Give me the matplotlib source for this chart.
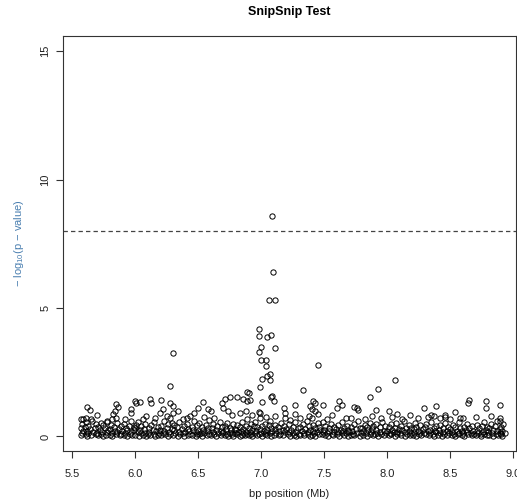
import matplotlib
matplotlib.use("Agg")
import matplotlib.pyplot as plt

plt.rcParams["font.family"] = ["Liberation Sans", "DejaVu Sans"]
plt.rcParams["mathtext.fontset"] = "custom"
plt.rcParams["mathtext.rm"] = "Liberation Sans"
plt.rcParams["mathtext.it"] = "Liberation Sans"
plt.rcParams["mathtext.default"] = "regular"

# data: SNP position (Mb) and -log10(p)
# background SNPs, low signal
bg_pos = [
    5.57, 5.57, 5.58, 5.58, 5.59, 5.59,
    5.60, 5.61, 5.61, 5.62, 5.62, 5.63, 5.63, 5.64, 5.65, 5.66, 5.67, 5.68, 5.69, 5.69,
    5.70, 5.71, 5.71, 5.72, 5.73, 5.73, 5.74, 5.75, 5.75, 5.76, 5.77, 5.78, 5.78, 5.79,
    5.80, 5.80, 5.81, 5.82, 5.82, 5.83, 5.84, 5.85, 5.86, 5.86, 5.87, 5.88, 5.89, 5.89,
    5.90, 5.91, 5.91, 5.92, 5.93, 5.94, 5.94, 5.95, 5.96, 5.97, 5.97, 5.98, 5.99, 5.99,
    6.00, 6.00, 6.01, 6.02, 6.02, 6.03, 6.04, 6.05, 6.05, 6.06, 6.07, 6.08, 6.08, 6.09,
    6.10, 6.11, 6.11, 6.12, 6.13, 6.14, 6.15, 6.15, 6.16, 6.17, 6.18, 6.18, 6.19,
    6.20, 6.21, 6.21, 6.22, 6.23, 6.23, 6.24, 6.25, 6.26, 6.26, 6.27, 6.28, 6.29, 6.29,
    6.30, 6.31, 6.31, 6.32, 6.33, 6.34, 6.35, 6.35, 6.36, 6.37, 6.38, 6.39, 6.39,
    6.40, 6.41, 6.42, 6.42, 6.43, 6.44, 6.45, 6.45, 6.46, 6.47, 6.48, 6.48, 6.49, 6.49,
    6.50, 6.51, 6.51, 6.52, 6.53, 6.53, 6.54, 6.55, 6.56, 6.57, 6.57, 6.58, 6.59, 6.59,
    6.60, 6.61, 6.62, 6.62, 6.63, 6.64, 6.64, 6.65, 6.66, 6.67, 6.68, 6.68, 6.69, 6.69,
    6.70, 6.71, 6.71, 6.72, 6.73, 6.73, 6.74, 6.75, 6.75, 6.76, 6.77, 6.78, 6.78, 6.79, 6.79,
    6.80, 6.81, 6.81, 6.82, 6.83, 6.83, 6.84, 6.85, 6.85, 6.86, 6.86, 6.87, 6.88, 6.88, 6.89, 6.89,
    6.90, 6.90, 6.91, 6.92, 6.92, 6.93, 6.93, 6.94, 6.95, 6.95, 6.96, 6.97, 6.97, 6.98, 6.99, 6.99,
    7.00, 7.01, 7.01, 7.02, 7.03, 7.03, 7.04, 7.05, 7.05, 7.06, 7.07, 7.08, 7.08, 7.09,
    7.10, 7.11, 7.11, 7.12, 7.13, 7.14, 7.14, 7.15, 7.16, 7.17, 7.17, 7.18, 7.19,
    7.20, 7.21, 7.22, 7.22, 7.23, 7.24, 7.25, 7.25, 7.26, 7.27, 7.28, 7.28, 7.29,
    7.30, 7.31, 7.31, 7.32, 7.33, 7.34, 7.34, 7.35, 7.36, 7.37, 7.37, 7.38, 7.39, 7.39,
    7.40, 7.41, 7.41, 7.42, 7.43, 7.43, 7.44, 7.45, 7.46, 7.46, 7.47, 7.48, 7.49, 7.49,
    7.50, 7.51, 7.51, 7.52, 7.53, 7.54, 7.54, 7.55, 7.56, 7.57, 7.58, 7.58, 7.59,
    7.60, 7.61, 7.61, 7.62, 7.63, 7.64, 7.64, 7.65, 7.66, 7.66, 7.67, 7.68, 7.69, 7.69,
    7.70, 7.71, 7.71, 7.72, 7.73, 7.74, 7.74, 7.75, 7.76, 7.77, 7.78, 7.78, 7.79,
    7.80, 7.81, 7.81, 7.82, 7.83, 7.84, 7.84, 7.85, 7.86, 7.86, 7.87, 7.88, 7.89, 7.89,
    7.90, 7.91, 7.91, 7.92, 7.93, 7.94, 7.94, 7.95, 7.96, 7.97, 7.97, 7.98, 7.99,
    8.00, 8.01, 8.01, 8.02, 8.03, 8.03, 8.04, 8.05, 8.06, 8.06, 8.07, 8.08, 8.08, 8.09,
    8.10, 8.11, 8.11, 8.12, 8.13, 8.14, 8.14, 8.15, 8.16, 8.17, 8.17, 8.18, 8.19, 8.19,
    8.20, 8.21, 8.21, 8.22, 8.23, 8.23, 8.24, 8.25, 8.26, 8.26, 8.27, 8.28, 8.29,
    8.30, 8.31, 8.31, 8.32, 8.33, 8.34, 8.34, 8.35, 8.36, 8.37, 8.37, 8.38, 8.39, 8.39,
    8.40, 8.41, 8.42, 8.42, 8.43, 8.44, 8.44, 8.45, 8.46, 8.47, 8.47, 8.48, 8.49,
    8.50, 8.51, 8.51, 8.52, 8.53, 8.54, 8.54, 8.55, 8.56, 8.57, 8.57, 8.58, 8.59, 8.59,
    8.60, 8.61, 8.61, 8.62, 8.63, 8.63, 8.64, 8.65, 8.66, 8.67, 8.67, 8.68, 8.69,
    8.70, 8.71, 8.71, 8.72, 8.73, 8.74, 8.74, 8.75, 8.76, 8.77, 8.77, 8.78, 8.79, 8.79,
    8.80, 8.81, 8.81, 8.82, 8.83, 8.84, 8.84, 8.85, 8.86, 8.87, 8.87, 8.88, 8.89, 8.89,
    8.90, 8.90, 8.91, 8.91, 8.92, 8.93,
]
bg_logp = [
    0.05, 0.32, 0.14, 0.48, 0.22, 0.68,
    0.35, 0.08, 0.55, 0.22, 0.02, 0.41, 0.15, 0.28, 0.05, 0.62, 0.18, 0.33, 0.09, 0.47,
    0.12, 0.38, 0.04, 0.26, 0.51, 0.10, 0.19, 0.03, 0.44, 0.31, 0.07, 0.58, 0.16, 0.24,
    0.05, 0.29, 0.45, 0.13, 0.02, 0.36, 0.21, 0.08, 0.52, 0.17, 0.30, 0.04, 0.40, 0.11,
    0.22, 0.06, 0.49, 0.14, 0.33, 0.01, 0.27, 0.42, 0.09, 0.18, 0.61, 0.05, 0.37, 0.24,
    0.31, 0.07, 0.46, 0.16, 0.55, 0.03, 0.25, 0.12, 0.39, 0.06, 0.28, 0.48, 0.14, 0.02,
    0.09, 0.34, 0.18, 0.04, 0.43, 0.26, 0.11, 0.57, 0.02, 0.21, 0.36, 0.07, 0.15,
    0.27, 0.05, 0.40, 0.13, 0.22, 0.62, 0.08, 0.33, 0.01, 0.47, 0.17, 0.10, 0.29, 0.54,
    0.06, 0.24, 0.45, 0.12, 0.35, 0.03, 0.19, 0.58, 0.09, 0.28, 0.14, 0.41, 0.02,
    0.16, 0.50, 0.04, 0.30, 0.21, 0.11, 0.38, 0.07, 0.25, 0.60, 0.02, 0.18, 0.44, 0.09,
    0.23, 0.08, 0.52, 0.15, 0.03, 0.37, 0.27, 0.12, 0.46, 0.05, 0.20, 0.33, 0.10, 0.64,
    0.04, 0.31, 0.17, 0.48, 0.09, 0.26, 0.02, 0.40, 0.13, 0.56, 0.07, 0.22, 0.35, 0.15,
    0.19, 0.06, 0.42, 0.28, 0.11, 0.53, 0.03, 0.34, 0.15, 0.24, 0.08, 0.47, 0.01, 0.30, 0.12,
    0.25, 0.09, 0.44, 0.16, 0.02, 0.35, 0.21, 0.07, 0.58, 0.13, 0.30, 0.04, 0.40, 0.18, 0.10, 0.66,
    0.05, 0.32, 0.19, 0.48, 0.08, 0.26, 0.02, 0.41, 0.14, 0.55, 0.22, 0.06, 0.37, 0.11, 0.29, 0.70,
    0.14, 0.03, 0.39, 0.22, 0.08, 0.50, 0.17, 0.27, 0.05, 0.44, 0.12, 0.33, 0.02, 0.21,
    0.06, 0.28, 0.45, 0.13, 0.36, 0.04, 0.20, 0.10, 0.53, 0.25, 0.07, 0.40, 0.16,
    0.30, 0.08, 0.17, 0.49, 0.03, 0.24, 0.12, 0.38, 0.06, 0.57, 0.19, 0.02, 0.33,
    0.11, 0.35, 0.04, 0.22, 0.47, 0.15, 0.07, 0.29, 0.61, 0.09, 0.18, 0.41, 0.02, 0.26,
    0.05, 0.21, 0.43, 0.13, 0.31, 0.02, 0.16, 0.52, 0.08, 0.37, 0.24, 0.10, 0.58, 0.19,
    0.26, 0.07, 0.40, 0.15, 0.03, 0.32, 0.20, 0.48, 0.11, 0.06, 0.36, 0.17, 0.28,
    0.09, 0.44, 0.18, 0.03, 0.27, 0.12, 0.55, 0.22, 0.06, 0.34, 0.14, 0.41, 0.01, 0.25,
    0.17, 0.04, 0.38, 0.23, 0.10, 0.50, 0.07, 0.29, 0.15, 0.62, 0.02, 0.33, 0.12,
    0.31, 0.06, 0.20, 0.46, 0.13, 0.03, 0.37, 0.24, 0.09, 0.54, 0.16, 0.28, 0.05, 0.42,
    0.08, 0.27, 0.49, 0.14, 0.02, 0.35, 0.19, 0.11, 0.58, 0.23, 0.06, 0.40, 0.15,
    0.21, 0.04, 0.36, 0.12, 0.47, 0.08, 0.26, 0.16, 0.03, 0.32, 0.53, 0.10, 0.19, 0.29,
    0.13, 0.39, 0.05, 0.24, 0.60, 0.17, 0.02, 0.31, 0.09, 0.45, 0.20, 0.07, 0.34, 0.14,
    0.06, 0.28, 0.15, 0.51, 0.03, 0.37, 0.22, 0.10, 0.43, 0.18, 0.04, 0.30, 0.12,
    0.35, 0.10, 0.48, 0.20, 0.04, 0.27, 0.14, 0.56, 0.08, 0.33, 0.01, 0.22, 0.41, 0.16,
    0.07, 0.25, 0.13, 0.44, 0.03, 0.34, 0.18, 0.09, 0.52, 0.21, 0.05, 0.38, 0.12,
    0.29, 0.05, 0.17, 0.46, 0.11, 0.02, 0.36, 0.23, 0.08, 0.55, 0.15, 0.31, 0.04, 0.20,
    0.12, 0.38, 0.03, 0.26, 0.17, 0.49, 0.08, 0.32, 0.14, 0.06, 0.42, 0.22, 0.10,
    0.04, 0.23, 0.45, 0.15, 0.31, 0.09, 0.02, 0.39, 0.19, 0.57, 0.11, 0.27, 0.06, 0.35,
    0.18, 0.07, 0.33, 0.50, 0.13, 0.25, 0.03, 0.41, 0.10, 0.21, 0.61, 0.05, 0.29, 0.15,
    0.09, 0.36, 0.02, 0.22, 0.47, 0.13,
]

# SNPs with moderate signal
mid_pos = [
    5.57, 5.61, 5.62, 5.645, 5.65, 5.70, 5.78, 5.82, 5.825, 5.84, 5.85, 5.85, 5.865,
    5.92, 5.97, 5.97, 6.00, 6.01, 6.04, 6.06, 6.09, 6.12, 6.13, 6.16, 6.20, 6.21,
    6.22, 6.25, 6.275, 6.275, 6.30, 6.30, 6.34, 6.38, 6.41, 6.44, 6.47, 6.50, 6.54,
    6.55, 6.58, 6.60, 6.63, 6.69, 6.70, 6.71, 6.74, 6.75, 6.77, 6.81, 6.83, 6.86,
    6.88, 6.89, 6.91, 6.93, 6.98, 6.99, 7.01, 7.04, 7.07, 7.08, 7.10, 7.11, 7.18,
    7.19, 7.19, 7.23, 7.27, 7.27, 7.31, 7.38, 7.39, 7.40, 7.40, 7.41, 7.43, 7.43,
    7.45, 7.49, 7.52, 7.56, 7.60, 7.62, 7.64, 7.67, 7.71, 7.74, 7.76, 7.77, 7.82,
    7.86, 7.88, 7.91, 7.95, 8.01, 8.04, 8.08, 8.12, 8.18, 8.24, 8.29, 8.32, 8.35,
    8.37, 8.39, 8.42, 8.46, 8.46, 8.50, 8.54, 8.58, 8.60, 8.64, 8.65, 8.70, 8.78,
    8.78, 8.82, 8.89, 8.89, 8.89,
]
mid_logp = [
    0.67, 0.73, 1.16, 1.03, 0.67, 0.85, 0.60, 0.67, 0.87, 1.00, 1.26, 0.73, 1.16,
    0.67, 1.06, 0.93, 1.39, 1.32, 1.36, 0.67, 0.80, 1.45, 1.32, 0.72, 0.93, 1.43,
    1.06, 0.78, 1.32, 0.73, 1.19, 0.93, 1.00, 0.67, 0.73, 0.80, 0.90, 1.12, 1.35,
    0.75, 1.06, 1.00, 0.70, 1.32, 1.12, 1.45, 1.00, 1.52, 0.82, 1.55, 0.90, 1.45,
    1.00, 1.39, 1.43, 0.85, 0.95, 0.93, 1.35, 0.76, 0.60, 1.55, 1.39, 0.80, 1.12,
    0.93, 0.73, 0.65, 1.22, 0.87, 0.70, 0.80, 1.17, 1.08, 0.73, 1.37, 1.32, 1.00,
    0.88, 1.22, 0.68, 0.83, 1.12, 1.39, 1.22, 0.72, 0.73, 1.16, 1.09, 1.03, 0.66,
    1.55, 0.78, 1.03, 0.70, 1.00, 0.75, 0.87, 0.68, 0.82, 0.70, 1.09, 0.76, 0.83,
    0.80, 1.19, 0.70, 0.83, 0.76, 0.68, 0.96, 0.72, 0.70, 1.32, 1.43, 0.74, 1.39,
    1.09, 0.78, 1.22, 0.70, 0.60,
]

# peak around 7.0-7.1 Mb and scattered outliers
top_pos = [
    6.28, 6.30, 6.89, 6.90, 6.99, 7.01, 7.045, 7.07, 7.07, 7.085, 7.035, 7.00,
    7.035, 6.985, 7.00, 7.11, 6.98, 6.98, 7.045, 7.077, 7.06, 7.11, 7.095, 7.09,
    7.33, 7.45, 7.93, 8.06,
]
top_logp = [
    1.95, 3.26, 1.74, 1.71, 1.91, 2.24, 2.36, 2.43, 2.20, 1.58, 2.73, 2.99,
    2.99, 3.27, 3.48, 3.44, 3.93, 4.20, 3.89, 3.96, 5.30, 5.33, 6.41, 8.60,
    1.80, 2.78, 1.84, 2.19,
]

threshold = 8
x_ticks = [5.5, 6.0, 6.5, 7.0, 7.5, 8.0, 8.5, 9.0]
y_ticks = [0, 5, 10, 15]

pos = bg_pos + mid_pos + top_pos
logp = bg_logp + mid_logp + top_logp

fig = plt.figure(figsize=(5.17, 5.04), dpi=100, facecolor="white")
ax = fig.add_axes([0.122, 0.105, 0.876, 0.824])

ax.plot(pos, logp, linestyle="none", marker="o", markersize=3.8,
        markerfacecolor="none", markeredgecolor="black", markeredgewidth=0.7)
ax.axhline(threshold, color="#444444", linewidth=0.9, linestyle=(0, (3.5, 2.5)))

ax.set_xlim(5.43, 9.02)
ax.set_ylim(-0.57, 15.6)
ax.set_xticks(x_ticks)
ax.set_xticklabels(["%.1f" % t for t in x_ticks])
ax.set_yticks(y_ticks)
ax.set_yticklabels([str(t) for t in y_ticks], rotation=90, va="center")

for s in ax.spines.values():
    s.set_color("#333333")
    s.set_linewidth(0.8)
ax.tick_params(axis="both", length=5, width=0.8, color="#333333",
               labelsize=8, labelcolor="#222222")
ax.tick_params(axis="x", pad=8)
ax.tick_params(axis="y", pad=4)

fig.text(0.5 * (0.122 + 0.998), 1 - 12 / 504, "SnipSnip Test", ha="center",
         va="center", fontsize=9, fontweight="bold")
fig.text(0.5 * (0.122 + 0.998), 1 - 494 / 504, "bp position (Mb)", ha="center",
         va="center", fontsize=8, color="#222222")
fig.text(19 / 517, 0.105 + 0.824 / 2, "\u2212 log$_{10}$(p \u2212 value)",
         rotation=90, ha="center", va="center", fontsize=8, color="#4a7fb0")

fig.savefig("out.png", dpi=100)
